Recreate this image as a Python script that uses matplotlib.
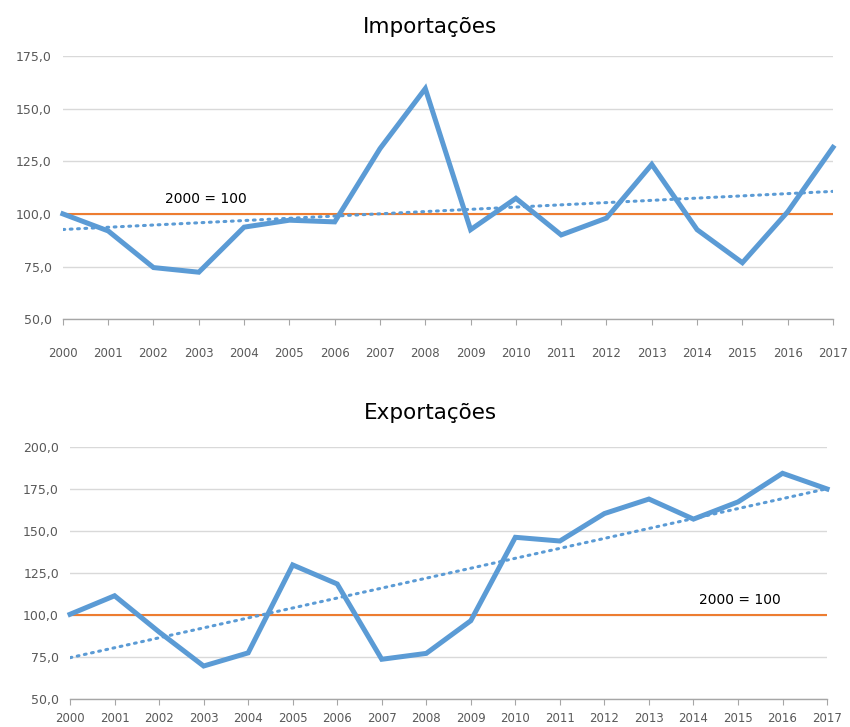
import numpy as np
import matplotlib.pyplot as plt
import matplotlib.ticker as ticker

years = np.arange(2000, 2018)
importacoes = [100.0, 91.9, 74.5, 72.3, 93.7, 97.0, 96.2, 131.0, 159.5,
               92.5, 107.4, 90.0, 98.0, 123.5, 92.5, 76.8, 101.0, 131.6]
exportacoes = [100.5, 111.5, 90.0, 69.8, 77.6, 129.8, 118.5, 73.8, 77.3,
               96.7, 146.2, 144.0, 160.3, 168.9, 157.0, 167.2, 184.2, 174.9]
base_value = 100.0

blue = "#5B9BD5"
orange = "#ED7D31"
grey_text = "#595959"


def draw_panel(ax, values, y_min, y_max, note_x, note_y):
    coef = np.polyfit(years, values, 1)
    trend = np.polyval(coef, years)

    ax.plot(years, np.full(len(years), base_value), color=orange, lw=1.5, zorder=2)
    ax.plot(years, trend, color=blue, lw=2.2, linestyle=(0, (0.6, 1.8)),
            dash_capstyle="round", zorder=3)
    ax.plot(years, values, color=blue, lw=3.6, solid_joinstyle="miter",
            clip_on=False, zorder=4)

    ax.set_xlim(years[0], years[-1])
    ax.set_ylim(y_min, y_max)
    ax.xaxis.set_major_locator(ticker.MultipleLocator(1))
    ax.yaxis.set_major_locator(ticker.MultipleLocator(25))
    ax.yaxis.set_major_formatter(ticker.FuncFormatter(lambda v, p: f"{v:.1f}".replace(".", ",")))

    ax.grid(axis="y", color="#D9D9D9", lw=1)
    ax.set_axisbelow(True)
    for side in ["left", "right", "top"]:
        ax.spines[side].set_visible(False)
    ax.spines["bottom"].set_color("#A6A6A6")
    ax.spines["bottom"].set_linewidth(1)
    ax.tick_params(axis="y", length=0, labelsize=9, labelcolor=grey_text, pad=8)
    ax.tick_params(axis="x", length=4, direction="out", color="#A6A6A6",
                   labelsize=8.5, labelcolor=grey_text)

    ax.text(note_x, note_y, "2000 = 100", fontsize=10, ha="center", va="center", color="black")


fig = plt.figure(figsize=(8.5, 7.27), dpi=100)
ax_top = fig.add_axes([0.074, 0.561, 0.906, 0.362])
ax_bottom = fig.add_axes([0.0824, 0.038, 0.8906, 0.3476])

draw_panel(ax_top, importacoes, 50, 175, 2003.15, 107)
ax_top.tick_params(axis="x", pad=16)
draw_panel(ax_bottom, exportacoes, 50, 200, 2015.05, 109)
ax_bottom.tick_params(axis="x", pad=5)

fig.text(0.506, 0.963, "Importações", fontsize=15.5, ha="center", va="center")
fig.text(0.506, 0.432, "Exportações", fontsize=15.5, ha="center", va="center")

plt.savefig("out.png", dpi=100)
